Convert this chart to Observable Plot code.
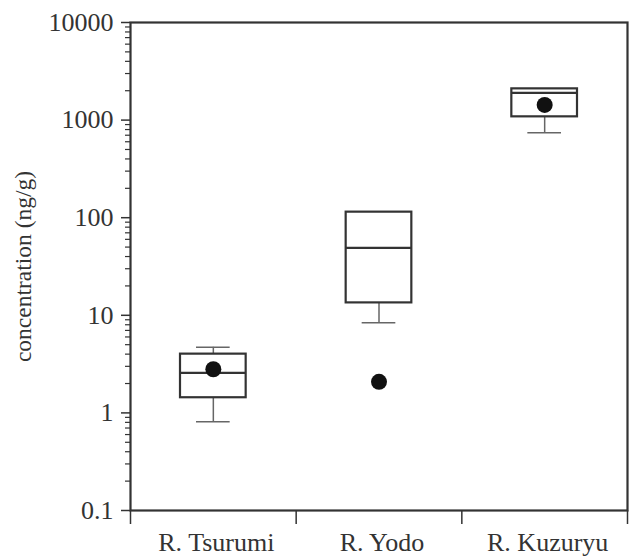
<!DOCTYPE html>
<html>
<head>
<meta charset="utf-8">
<script src="https://cdn.jsdelivr.net/npm/d3@7"></script>
<script src="https://cdn.jsdelivr.net/npm/@observablehq/plot@0.6"></script>
<style>
  html, body { margin: 0; padding: 0; background: #fff; }
  #chart svg, #chart svg text { font-family: "Liberation Serif", "Times New Roman", serif !important; }
  #chart svg text { font-size: 26px; fill: #333; }
  #chart svg g[aria-label="y-axis label"] text { font-size: 23.5px; }
</style>
</head>
<body>
<div id="chart"></div>
<script>
// Categories
const categories = ["R. Tsurumi", "R. Yodo", "R. Kuzuryu"];
// Box statistics (ng/g)
const whiskerLow  = [0.81, 8.4, 740];
const boxLow      = [1.43, 13.4, 1080];
const median      = [2.57, 49, 1900];
const boxHigh     = [4.0, 114, 2090];
const whiskerHigh = [4.7, 114, 2090];
// Dots (mean values)
const dotValue    = [2.8, 2.08, 1430];
// Y axis ticks
const yTicks      = [0.1, 1, 10, 100, 1000, 10000];
const yTickLabels = ["0.1", "1", "10", "100", "1000", "10000"];

const rows = categories.map((c, i) => ({
  i, c,
  wl: whiskerLow[i], bl: boxLow[i], md: median[i], bh: boxHigh[i], wh: whiskerHigh[i], dot: dotValue[i]
}));

const minorTicks = yTicks.slice(0, -1).flatMap(d => [2,3,4,5,6,7,8,9].map(k => k * d));

const ink = "#333";

const chart = Plot.plot({
  width: 629,
  height: 557,
  marginTop: 22,
  marginBottom: 47,
  marginLeft: 130,
  marginRight: 2,
  style: { fontFamily: "Liberation Serif", fontSize: "26px", color: ink, background: "#fff" },
  x: { type: "linear", domain: [0, categories.length] },
  y: { type: "log", domain: [0.1, 10000] },
  marks: [
    // y minor ticks
    Plot.axisY({ ticks: minorTicks, tickSize: 5, tickFormat: () => "", label: null, strokeWidth: 1.2 }),
    // y major ticks and labels
    Plot.axisY({ ticks: yTicks, tickSize: 9, tickPadding: 8, tickFormat: (d) => yTickLabels[yTicks.indexOf(d)],
                 label: "concentration (ng/g)", labelAnchor: "center", labelOffset: 116, labelArrow: "none", strokeWidth: 1.5 }),
    // x band boundary ticks
    Plot.axisX({ ticks: d3.range(categories.length + 1), tickSize: 14, tickFormat: () => "", label: null, strokeWidth: 1.5 }),
    // x category labels
    Plot.axisX({ ticks: categories.map((c, i) => i + 0.5), tickSize: 0, tickPadding: 22, dx: 3,
                 tickFormat: (d) => categories[Math.round(d - 0.5)], label: null }),
    // whiskers
    Plot.ruleX(rows, { x: d => d.i + 0.5, y1: "wl", y2: "bl", stroke: "#666", strokeWidth: 1.5 }),
    Plot.ruleX(rows, { x: d => d.i + 0.5, y1: "bh", y2: "wh", stroke: "#666", strokeWidth: 1.5 }),
    // whisker caps
    Plot.ruleY(rows, { y: "wl", x1: d => d.i, x2: d => d.i + 1, insetLeft: 66, insetRight: 66, stroke: "#666", strokeWidth: 1.5 }),
    Plot.ruleY(rows.filter(d => d.wh > d.bh), { y: "wh", x1: d => d.i, x2: d => d.i + 1, insetLeft: 66, insetRight: 66, stroke: "#666", strokeWidth: 1.5 }),
    // boxes
    Plot.rect(rows, { x1: d => d.i, x2: d => d.i + 1, y1: "bl", y2: "bh", insetLeft: 50, insetRight: 50,
                      fill: "none", stroke: ink, strokeWidth: 2.2 }),
    // medians
    Plot.ruleY(rows, { y: "md", x1: d => d.i, x2: d => d.i + 1, insetLeft: 50, insetRight: 50, stroke: ink, strokeWidth: 2.2 }),
    // dots
    Plot.dot(rows, { x: d => d.i + 0.5, y: "dot", r: 8, fill: "#111", stroke: "none" }),
    // frame
    Plot.frame({ stroke: ink, strokeWidth: 2.2 })
  ]
});

document.getElementById("chart").appendChild(chart);
</script>
</body>
</html>
